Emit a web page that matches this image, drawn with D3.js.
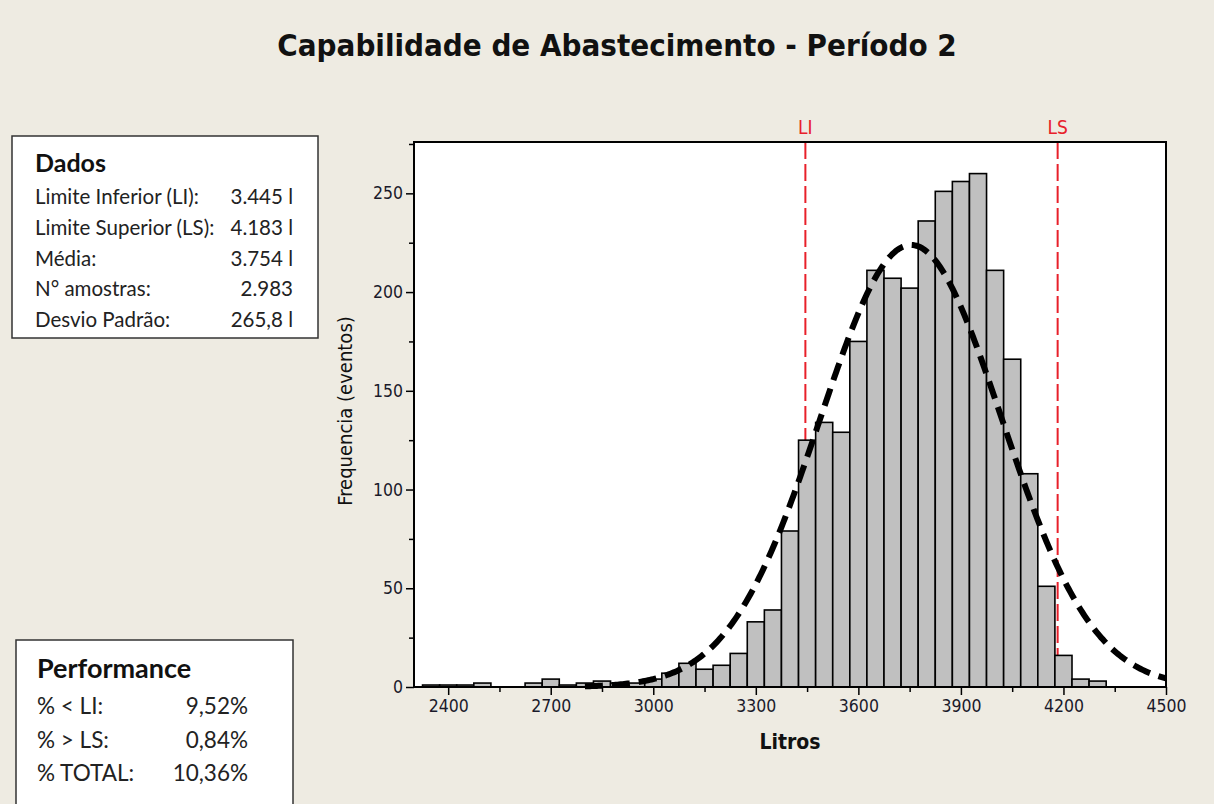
<!DOCTYPE html>
<html>
<head>
<meta charset="utf-8">
<script src="https://cdn.jsdelivr.net/npm/d3@7"></script>
<style>
  body { margin: 0; background: #eeebe2; }
  svg { display: block; }
</style>
</head>
<body>
<svg width="1214" height="804"></svg>
<script>
const svg = d3.select('svg');

// DATA
const binCenters = [2350, 2400, 2450, 2500, 2550, 2600, 2650, 2700, 2750, 2800,
  2850, 2900, 2950, 3000, 3050, 3100, 3150, 3200, 3250, 3300,
  3350, 3400, 3450, 3500, 3550, 3600, 3650, 3700, 3750, 3800,
  3850, 3900, 3950, 4000, 4050, 4100, 4150, 4200, 4250, 4300];
const counts = [1, 1, 1, 2, 0, 0, 2, 4, 1, 2,
  3, 2, 2, 4, 7, 12, 9, 11, 17, 33,
  39, 79, 125, 134, 129, 175, 211, 207, 202, 236,
  251, 256, 260, 211, 166, 108, 51, 16, 4, 3];
const binWidth = 50;
const xTicks = [2400, 2700, 3000, 3300, 3600, 3900, 4200, 4500];
const yTicks = [0, 50, 100, 150, 200, 250];
const specLimits = [{ label: 'LI', value: 3445 }, { label: 'LS', value: 4183 }];
const mean = 3754;
const stdDev = 265.8;
const nSamples = 2983;
const dadosLabels = ['Limite Inferior (LI):', 'Limite Superior (LS):', 'Média:', 'N° amostras:', 'Desvio Padrão:'];
const dadosValues = ['3.445 l', '4.183 l', '3.754 l', '2.983', '265,8 l'];
const perfLabels = ['% < LI:', '% > LS:', '% TOTAL:'];
const perfValues = ['9,52%', '0,84%', '10,36%'];

// LAYOUT
const plotLeft = 414, plotRight = 1166, plotTop = 142, plotBottom = 687;
const tahoma = '"DejaVu Sans Condensed", "DejaVu Sans", sans-serif';
const calibri = 'Lato, "Open Sans", sans-serif';

const x = d3.scaleLinear().domain([2300, 4500]).range([plotLeft, plotRight]);
const y = d3.scaleLinear().domain([0, 276]).range([plotBottom, plotTop]);

// TITLE
svg.append('text')
    .attr('x', 617)
    .attr('y', 56)
    .attr('text-anchor', 'middle')
    .attr('font-family', tahoma)
    .attr('font-weight', 'bold')
    .attr('font-size', 31)
    .attr('fill', '#111')
    .text('Capabilidade de Abastecimento - Período 2');

// PLOT AREA
svg.append('rect')
    .attr('x', plotLeft)
    .attr('y', plotTop)
    .attr('width', plotRight - plotLeft)
    .attr('height', plotBottom - plotTop)
    .attr('fill', '#fff');

// spec limit lines (behind bars)
specLimits.forEach(s => {
  svg.append('line')
      .attr('x1', x(s.value)).attr('x2', x(s.value))
      .attr('y1', plotTop).attr('y2', plotBottom)
      .attr('stroke', '#e8202a')
      .attr('stroke-width', 2)
      .attr('stroke-dasharray', '17,5');
  svg.append('text')
      .attr('x', x(s.value))
      .attr('y', 134)
      .attr('text-anchor', 'middle')
      .attr('font-family', tahoma)
      .attr('font-size', 19)
      .attr('fill', '#e8202a')
      .text(s.label);
});

// BARS
svg.append('g')
  .selectAll('rect')
  .data(binCenters.map((c, i) => ({ c, n: counts[i] })).filter(d => d.n > 0))
  .join('rect')
    .attr('x', d => x(d.c - binWidth / 2))
    .attr('y', d => y(d.n))
    .attr('width', d => x(d.c + binWidth / 2) - x(d.c - binWidth / 2))
    .attr('height', d => y(0) - y(d.n))
    .attr('fill', '#c0c0c0')
    .attr('stroke', '#000')
    .attr('stroke-width', 1.6);

// NORMAL FIT
const curveXs = d3.range(2800, 4500.1, 5);
const normal = v => nSamples * binWidth / (stdDev * Math.sqrt(2 * Math.PI)) *
  Math.exp(-0.5 * Math.pow((v - mean) / stdDev, 2));
svg.append('path')
    .datum(curveXs)
    .attr('d', d3.line().x(v => x(v)).y(v => y(normal(v))))
    .attr('fill', 'none')
    .attr('stroke', '#000')
    .attr('stroke-width', 6)
    .attr('stroke-dasharray', '18,9');

// FRAME
svg.append('rect')
    .attr('x', plotLeft)
    .attr('y', plotTop)
    .attr('width', plotRight - plotLeft)
    .attr('height', plotBottom - plotTop)
    .attr('fill', 'none')
    .attr('stroke', '#000')
    .attr('stroke-width', 2);

// AXES
svg.append('g')
    .attr('transform', `translate(0, ${plotBottom})`)
    .call(d3.axisBottom(x).tickValues(xTicks).tickSize(8).tickPadding(5).tickFormat(d3.format('d')));
svg.append('g')
    .attr('transform', `translate(0, ${plotBottom})`)
    .call(d3.axisBottom(x).tickValues(xTicks.slice(0, -1).map(t => t + 150)).tickSize(5).tickFormat(''));
svg.append('g')
    .attr('transform', `translate(${plotLeft}, 0)`)
    .call(d3.axisLeft(y).tickValues(yTicks).tickSize(8).tickPadding(3));
svg.append('g')
    .attr('transform', `translate(${plotLeft}, 0)`)
    .call(d3.axisLeft(y).tickValues(yTicks.map(t => t + 25)).tickSize(5).tickFormat(''));

svg.selectAll('.domain').remove();
svg.selectAll('.tick line').attr('stroke', '#000').attr('stroke-width', 1.5);
svg.selectAll('.tick text')
    .attr('font-family', tahoma)
    .attr('font-size', 17.5)
    .attr('fill', '#1a1a2a');

svg.append('text')
    .attr('x', 790)
    .attr('y', 749)
    .attr('text-anchor', 'middle')
    .attr('font-family', tahoma)
    .attr('font-weight', 'bold')
    .attr('font-size', 21)
    .attr('fill', '#111')
    .text('Litros');

svg.append('text')
    .attr('transform', 'translate(352, 411) rotate(-90)')
    .attr('text-anchor', 'middle')
    .attr('font-family', tahoma)
    .attr('font-size', 20)
    .attr('fill', '#111')
    .text('Frequencia (eventos)');

// DADOS BOX
svg.append('rect')
    .attr('x', 12).attr('y', 136)
    .attr('width', 306).attr('height', 202)
    .attr('fill', '#fff')
    .attr('stroke', '#333')
    .attr('stroke-width', 1.5);
svg.append('text')
    .attr('x', 35).attr('y', 172)
    .attr('font-family', calibri)
    .attr('font-weight', 'bold')
    .attr('font-size', 25)
    .attr('fill', '#111')
    .text('Dados');
dadosLabels.forEach((lab, i) => {
  const yy = 204 + i * 30.8;
  svg.append('text')
      .attr('x', 35).attr('y', yy)
      .attr('font-family', calibri)
      .attr('font-size', 20.5)
      .attr('fill', '#222')
      .text(lab);
  svg.append('text')
      .attr('x', 293).attr('y', yy)
      .attr('text-anchor', 'end')
      .attr('font-family', calibri)
      .attr('font-size', 20.5)
      .attr('fill', '#222')
      .text(dadosValues[i]);
});

// PERFORMANCE BOX
svg.append('rect')
    .attr('x', 16).attr('y', 640)
    .attr('width', 277).attr('height', 180)
    .attr('fill', '#fff')
    .attr('stroke', '#333')
    .attr('stroke-width', 1.5);
svg.append('text')
    .attr('x', 37).attr('y', 678)
    .attr('font-family', calibri)
    .attr('font-weight', 'bold')
    .attr('font-size', 27)
    .attr('fill', '#111')
    .text('Performance');
perfLabels.forEach((lab, i) => {
  const yy = 714 + i * 33.5;
  svg.append('text')
      .attr('x', 37).attr('y', yy)
      .attr('font-family', calibri)
      .attr('font-size', 22.5)
      .attr('fill', '#222')
      .text(lab);
  svg.append('text')
      .attr('x', 248).attr('y', yy)
      .attr('text-anchor', 'end')
      .attr('font-family', calibri)
      .attr('font-size', 22.5)
      .attr('fill', '#222')
      .text(perfValues[i]);
});
</script>
</body>
</html>
